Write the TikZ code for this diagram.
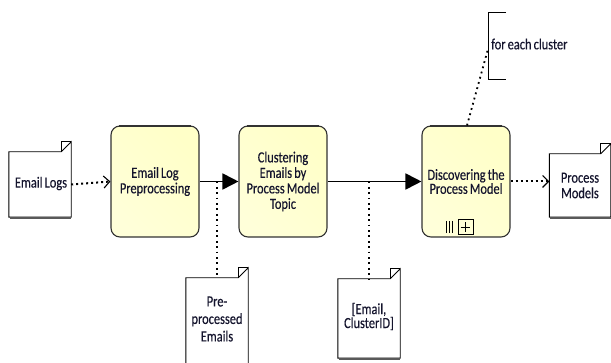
\documentclass[tikz,border=0pt]{standalone}
\usepackage{fontspec}
\setmainfont{Carlito}[FakeStretch=0.8, WordSpace=0.75, FakeBold=0.3]
\usetikzlibrary{arrows.meta,calc}
\definecolor{taskfill}{RGB}{255,255,200}
\definecolor{taskedge}{RGB}{50,50,50}
\definecolor{inktext}{RGB}{20,20,45}
\tikzset{
  lbl/.style={font=\fontsize{15.5}{15.5}\selectfont, text=inktext},
  task/.style={draw=taskedge, line width=1.1pt, rounded corners=9pt,
    top color=taskfill!70!white, bottom color=taskfill, shading angle=135,
    minimum width=88pt, minimum height=111pt, align=center,
    lbl, inner sep=0pt},
  docbox/.style={minimum width=62pt, align=center, inner sep=0pt},
  dotflow/.style={line width=2pt, dash pattern=on 2pt off 3pt,
    -{Straight Barb[length=6pt,width=12pt,line width=1.1pt]}},
  seqflow/.style={line width=1.8pt, -{Triangle[length=16pt,width=16pt]}},
  assoc/.style={line width=1.8pt, dash pattern=on 1.8pt off 3.6pt},
}
% folded-corner document outline drawn around a named node
\newcommand{\docshape}[1]{%
  \draw[line width=0.9pt, fill=white]
    (#1.north west) -- ($(#1.north east)+(-10pt,0)$) -- ($(#1.north east)+(0,10pt)$)
    -- (#1.south east) -- (#1.south west) -- cycle;
  \draw[line width=0.9pt] ($(#1.north east)+(-10pt,0)$) -- ($(#1.north east)+(-10pt,10pt)$)
    -- ($(#1.north east)+(0,10pt)$);
  \draw[line width=1.6pt, gray!70!black] ($(#1.south west)+(0.8pt,-0.8pt)$) -- ($(#1.south east)+(0,-0.8pt)$);
}
\begin{document}
\begin{tikzpicture}[x=1pt,y=-1pt]
\useasboundingbox (0,0) rectangle (611,363);

% data objects
\node[docbox, minimum height=65pt] (logs) at (40,184.5) {};
\docshape{logs}
\node[lbl] at ($(logs.center)+(1,-1)$) {Email Logs};

\node[docbox, minimum height=63pt, minimum width=61pt] (pm) at (580,185.5) {};
\docshape{pm}
\node[lbl, align=center] at ($(pm.center)+(0,0)$) {Process\\Models};

\node[docbox, minimum height=88pt] (pre) at (217,322) {};
\docshape{pre}
\node[lbl, align=center, font=\fontsize{15.5}{17.5}\selectfont] at ($(pre.center)+(0,-3)$) {Pre-\\processed\\Emails};

\node[docbox, minimum height=79pt] (cid) at (369,318.5) {};
\docshape{cid}
\node[lbl, align=center, font=\fontsize{15.5}{14}\selectfont] at ($(cid.center)+(0,-2)$) {[Email,\\ClusterID]};

% activities
\node[task] (t1) at (155,181.5) {Email Log\\Preprocessing};
\node[task] (t2) at (283,181.5) {Clustering\\Emails by\\Process Model\\Topic};
\node[task, font=\fontsize{15.5}{14}\selectfont] (t3) at (466,181.5) {Discovering the\\Process Model};
\foreach \t in {t1,t2,t3}{
  \draw[line width=2pt, taskedge] ($(\t.north west)+(9,0.3)$) -- ($(\t.north east)+(-9,0.3)$);
}

% multi-instance + collapsed sub-process markers
\node[draw, line width=0.9pt, minimum size=15pt, inner sep=0pt] (sub) at (465.5,227) {};
\draw[line width=0.9pt] (sub.north) ++(0,3) -- ($(sub.south)+(0,-3)$);
\draw[line width=0.9pt] (sub.west) ++(3,0) -- ($(sub.east)+(-3,0)$);
\foreach \dx in {0,3,6}{
  \draw[line width=1.5pt] ($(sub.west)+(-11+\dx,-6)$) -- ++(0,12);
}

% flows
\draw[dotflow] (logs.east) -- (t1.west);
\draw[seqflow] (t1.east) -- (t2.west);
\draw[seqflow] (t2.east) -- (t3.west);
\draw[dotflow] (t3.east) -- (pm.west |- t3.east);

% data associations
\coordinate (j1) at (217,181.5);
\coordinate (j2) at (369,181.5);
\draw[assoc] (j1) -- (pre.north);
\draw[assoc] (j2) -- (cid.north);

% text annotation
\coordinate (bt) at (488,12);
\coordinate (bb) at (488,79);
\draw[line width=0.9pt] ($(bt)+(18,0)$) -- (bt) -- (bb) -- ($(bb)+(18,0)$);
\node[anchor=west, lbl, inner sep=0pt] (note) at (491,44) {for each cluster};
\coordinate (na) at (488,49);
\draw[assoc] ($(t3.north)+(1,0)$) -- (na);
\end{tikzpicture}
\end{document}
